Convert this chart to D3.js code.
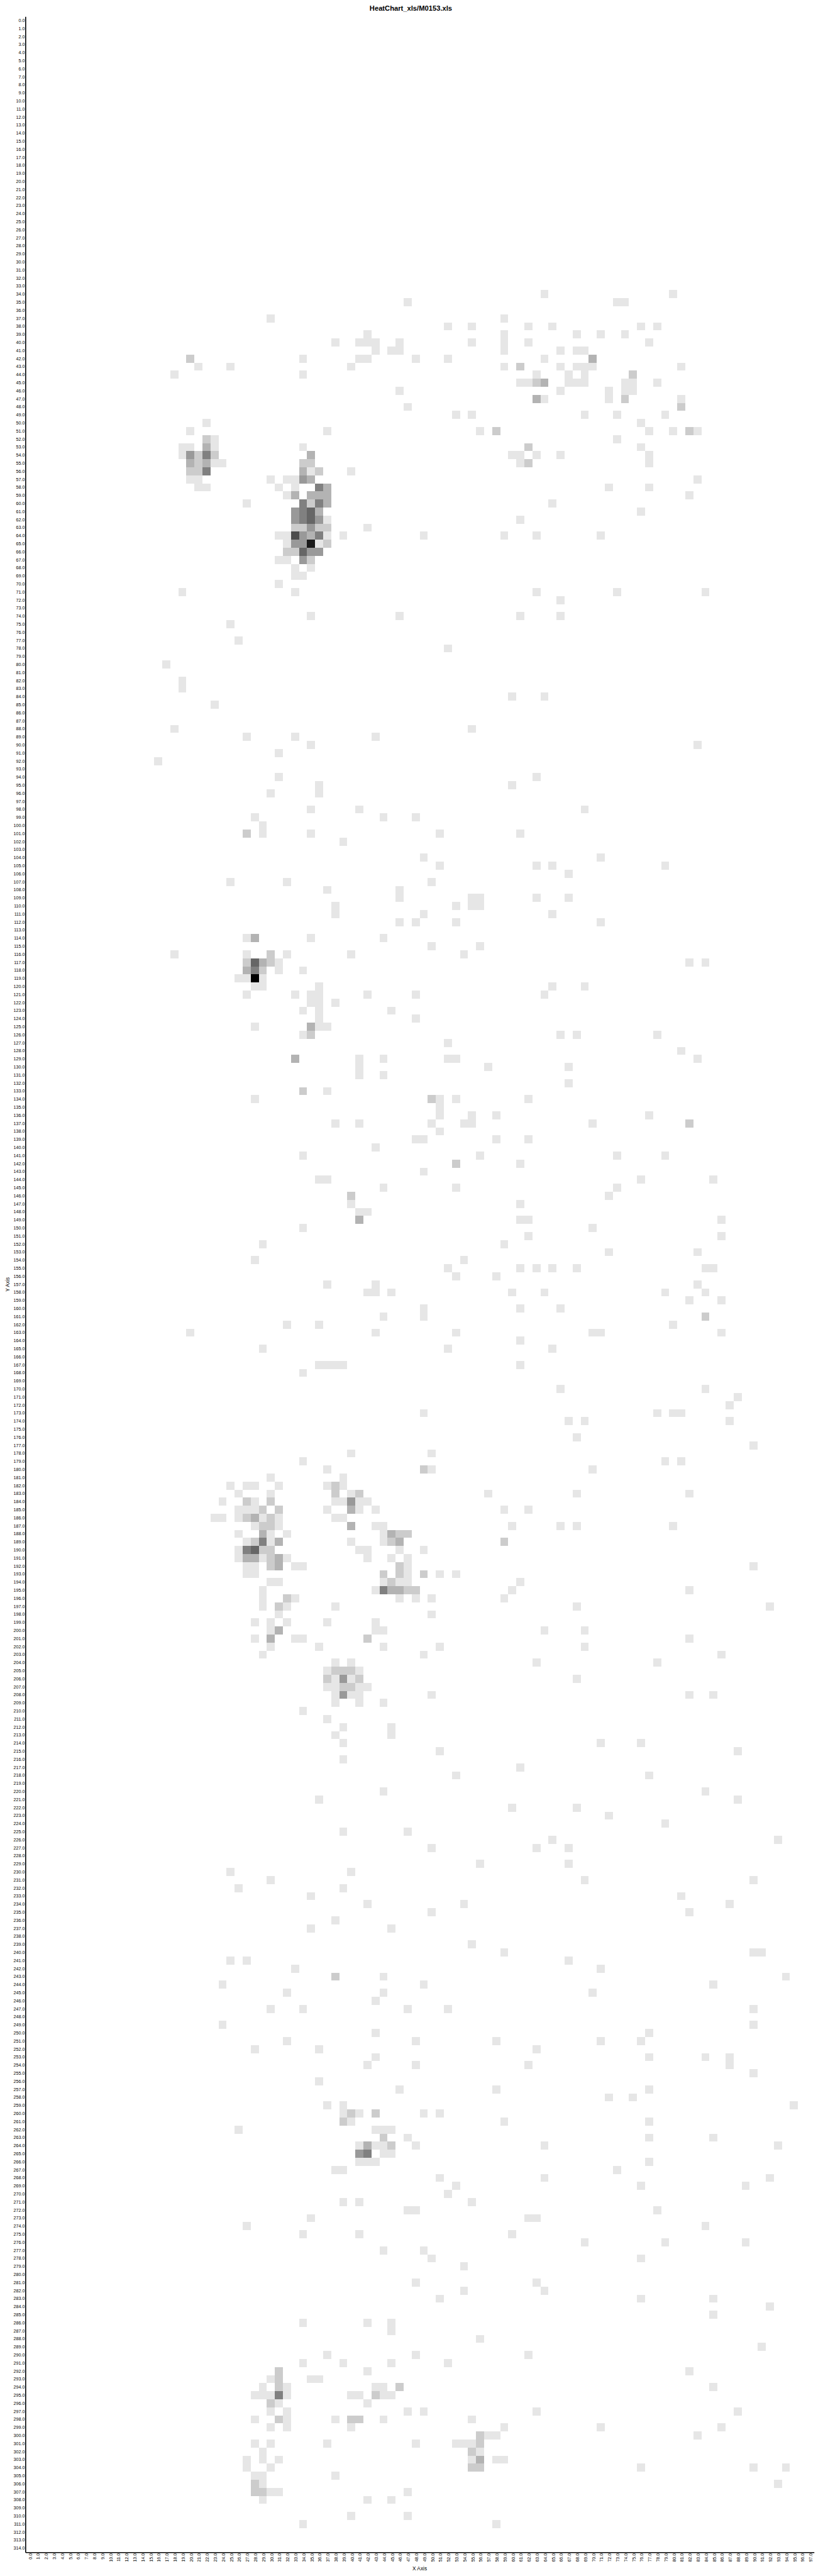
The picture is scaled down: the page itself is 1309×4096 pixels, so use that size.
<!DOCTYPE html>
<html>
<head>
<meta charset="utf-8">
<title>HeatChart_xls/M0153.xls</title>
<script src="https://cdn.jsdelivr.net/npm/d3@7"></script>
<style>
html,body{margin:0;padding:0;background:#fff;}
svg{display:block;}
text{font-family:"Liberation Sans",Arial,sans-serif;fill:#000;}
</style>
</head>
<body>
<div id="chart"></div>
<script>
const titleText = "HeatChart_xls/M0153.xls";
const xAxisLabel = "X Axis";
const yAxisLabel = "Y Axis";
const columnCount = 98;
const rowCount = 315;
const maxCount = 10;

// [row, [columns...]] grouped by the cell's count
const countOne = [
[34,[64,80]],[35,[47,73,74]],[37,[30,59]],[38,[52,55,62,65,76,78]],[39,[42,59,68,71,74]],
[40,[38,41,42,43,46,55,59,62,77]],[41,[43,45,46,59,66,68,69]],[42,[34,41,42,48,52,64]],
[43,[21,25,40,59,66,68,69,70,81]],[44,[18,34,63,67,69]],[45,[61,62,67,68,69,74,75,78]],
[46,[46,66,72,74,75]],[47,[64,72,81]],[48,[47]],[49,[53,55,69,73,79]],[50,[22,76]],
[51,[20,37,56,77,80,83]],[52,[23,73]],[53,[19,20,23,34,76]],[54,[19,60,61,63,66,77]],
[55,[23,24,61,77]],[56,[35,40]],[57,[20,21,30,32,33,83]],[58,[21,22,31,33,72,77]],
[59,[32,82]],[60,[27,65]],[61,[76]],[62,[37,61]],[63,[42]],[64,[31,32,37,39,49,59,63,71]],
[65,[32,36]],[67,[31,32]],[68,[33,35]],[69,[33,34]],[70,[31]],[71,[19,33,63,73,84]],
[72,[66]],[74,[35,46,61,66]],[75,[25]],[77,[26]],[78,[52]],[80,[17]],[82,[19]],[83,[19]],
[84,[60,64]],[85,[23]],[88,[18,55]],[89,[27,33,43]],[90,[35,83]],[91,[31]],[92,[16]],
[94,[31,63]],[95,[36,60]],[96,[30,36]],[98,[35,41,69]],[99,[28,44,48]],[100,[29]],
[101,[29,35,51,61]],[102,[39]],[104,[49,71]],[105,[51,63,65,79]],[106,[67]],[107,[25,32,50]],
[108,[37,46]],[109,[46,55,56,63,67]],[110,[38,53,55,56]],[111,[38,49,65]],[112,[46,48,53,71]],
[114,[27,35,44]],[115,[50,56]],[116,[18,27,32,40,54]],[117,[31,82,84]],[118,[31,34]],
[119,[26,27,29]],[120,[28,29,36,65,69]],[121,[27,33,35,36,42,48,64]],[122,[35,36,38]],
[123,[34,36,45]],[124,[36,48]],[125,[28,36,37]],[126,[34,66,68,78]],[127,[52]],[128,[81]],
[129,[41,44,52,53,83]],[130,[41,57,67]],[131,[41,44]],[132,[67]],[133,[37]],[134,[28,51,53,62]],
[135,[51]],[136,[51,55,58,77]],[137,[38,41,50,54,55,70]],[138,[51]],[139,[48,49,58,62]],
[140,[43]],[141,[34,56,73,79]],[142,[61]],[143,[49]],[144,[36,37,76,85]],[145,[44,53,73]],
[146,[72]],[147,[40,61]],[148,[41,42]],[149,[61,62,86]],[150,[34,70]],[151,[62,86]],
[152,[29,59]],[153,[72,83]],[154,[28,54]],[155,[52,61,63,65,68,84,85]],[156,[53,58]],
[157,[37,43,83]],[158,[42,43,45,60,64,79,84]],[159,[82,86]],[160,[49,61,66]],[161,[44,49]],
[162,[32,36,80]],[163,[20,43,53,70,71,86]],[164,[61]],[165,[29,52,65]],[167,[36,37,38,39,61]],
[168,[34]],[170,[66,84]],[171,[88]],[172,[87]],[173,[49,78,80,81]],[174,[67,69,87]],
[176,[68]],[177,[90]],[178,[40,50]],[179,[34,79,81]],[180,[37,50,70]],[181,[30,39]],
[182,[25,27,28,31,37,39]],[183,[26,30,40,57,68,82]],[184,[24,28,38,39,41,42]],
[185,[26,27,28,37,41,43,59,62]],[186,[23,24,26,29,31,38,39]],[187,[28,31,43,44,60,66,68,80]],
[188,[26,30,32,44]],[189,[27,30,40,44]],[190,[26,41,42,46,49]],[191,[26,29,32,42,45,47]],
[192,[27,28,33,34,47,90]],[193,[27,28,47,51,53]],[194,[30,31,44,46,47,61]],[195,[29,43,60,82]],
[196,[29,33,46,48,50,59]],[197,[29,32,38,68,92]],[198,[31,50]],[199,[28,30,32,37,43]],
[200,[30,43,44,64,69]],[201,[28,33,34,82]],[202,[30,36,44,51,69]],[203,[29,49,86]],
[204,[38,40,63,78]],[205,[37,41]],[206,[38,40,68]],[207,[37,38,41,42]],[208,[38,40,41,50,82,85]],
[209,[38,41,44]],[210,[34]],[211,[37]],[212,[39,45]],[213,[38,45]],[214,[39,71,76]],[215,[51,88]],
[216,[39]],[217,[61]],[218,[53,77]],[220,[44,84]],[221,[36,88]],[222,[60,68]],[223,[72]],[224,[79]],
[225,[39,47]],[226,[65,93]],[227,[50,63,67]],[229,[56,67]],[230,[25,40]],[231,[30,69,90]],
[232,[26,39]],[233,[35,81]],[234,[42,54,87]],[235,[50,82]],[236,[38]],[237,[35,45]],[239,[55]],
[240,[59,90,91]],[241,[25,27,67]],[242,[33,71]],[243,[44,94]],[244,[24,49,85]],[245,[32,44,70]],
[246,[43]],[247,[30,34,47,52,90]],[249,[24,90]],[250,[43,77]],[251,[32,48,58,71,76]],
[252,[28,36,63]],[253,[43,77,84,87]],[254,[42,48,62,87]],[255,[90]],[256,[36]],[257,[46,58,77]],
[258,[72,75]],[259,[37,39,95]],[260,[39,41,49,51]],[261,[40,59,77]],[262,[26,43,44,45]],
[263,[47,77,85]],[264,[41,43,44,48,64,93]],[265,[44,45]],[266,[41,42,43,77]],[267,[38,39,73]],
[268,[51,64,92]],[269,[53,76,89]],[270,[52]],[271,[39,41,55]],[272,[47,48,78]],[273,[35,62,63]],
[274,[27,84]],[275,[34,41,60]],[276,[69,79,89]],[277,[44,49]],[278,[50,76]],[279,[54]],
[281,[48,63]],[282,[54,64]],[283,[51,76,85]],[284,[92]],[285,[85]],[286,[34,42,45]],[287,[45]],
[288,[56]],[289,[91]],[290,[37,48,62]],[291,[34,39,45,52]],[292,[42,82]],[293,[30,35,36]],
[294,[29,32,43,44,85]],[295,[28,29,30,32,40,41,44,45]],[296,[31,42]],[297,[30,32,47,49,63,88]],
[298,[28,32,38,44,55]],[299,[30,32,40,59,71,86]],[300,[57,58,83]],[301,[28,30,37,48,53,54,55]],
[302,[29,56]],[303,[27,29,31,55,58,59]],[304,[27,30,76,90,94]],[305,[28,29,38]],[306,[29,93]],
[307,[30,31,47]],[308,[29,42,45]],[310,[40,47]],[311,[34,58]]
];
const countTwo = [
[42,[20]],[43,[61]],[44,[75]],[45,[63]],[47,[74]],[48,[81]],[51,[58,82]],[52,[22]],[53,[62]],
[54,[21,23]],[55,[21,34,35,62]],[56,[20,21,36]],[60,[35]],[63,[33,34,36,37]],[65,[37]],
[66,[32,33]],[67,[35]],[101,[27]],[116,[30]],[117,[27,30]],[118,[29]],[126,[35]],[133,[34]],
[134,[50]],[137,[82]],[142,[53]],[146,[40]],[161,[84]],[180,[49]],[182,[38]],[183,[38,41]],
[184,[27,30]],[185,[29,31]],[186,[27,30]],[187,[29,30]],[188,[46,47]],[189,[28,45,59]],
[190,[29,30]],[191,[30]],[192,[30,46]],[193,[44,46,49]],[194,[45]],[195,[47,48]],[196,[32]],
[197,[31]],[201,[42]],[205,[38,39,40]],[206,[37,41]],[207,[39,40]],[243,[38]],[260,[40,43]],
[261,[39]],[263,[44]],[264,[45]],[292,[31]],[293,[31]],[294,[31,46]],[295,[43]],[296,[30]],
[298,[31,40,41]],[300,[56]],[301,[56]],[302,[55]],[304,[55,56]],[306,[28]],[307,[28,29]]
];
const countThree = [
[42,[70]],[45,[64]],[47,[63]],[53,[22]],[54,[35]],[55,[20,22]],[56,[34]],[57,[35]],[58,[37]],
[59,[33,35,36,37]],[60,[37]],[61,[36]],[64,[35]],[114,[28]],[117,[29]],[118,[27]],[125,[35]],
[129,[33]],[149,[41]],[185,[40]],[186,[28]],[187,[40]],[188,[29,45]],[189,[31,46]],[191,[27,28,31]],
[192,[31]],[195,[45,46]],[200,[31]],[201,[30]],[264,[42]],[303,[56]]
];
const countFour = [
[54,[20]],[57,[34]],[61,[33]],[62,[33,36]],[63,[35]],[64,[34]],[65,[33,34]],[66,[35,36]],[67,[34]],
[184,[40]],[206,[39]],[208,[39]],[265,[41]]
];
const countFive = [
[54,[22]],[56,[22]],[58,[36]],[60,[34,36]],[61,[34]],[62,[34]],[64,[36]],[118,[28]],[189,[29]],
[190,[27]],[195,[44]],[265,[42]],[295,[31]]
];
const countSix = [[61,[35]],[62,[35]],[66,[34]],[117,[28]],[190,[28]]];
const countSeven = [[64,[33]]];
const countNine = [[65,[35]]];
const countTen = [[119,[28]]];

const groups = [
  [1,countOne],[2,countTwo],[3,countThree],[4,countFour],[5,countFive],
  [6,countSix],[7,countSeven],[9,countNine],[10,countTen]
];
const cells = groups.flatMap(([v,list]) =>
  list.flatMap(([r,cols]) => cols.map(c => ({row:r,col:c,value:v}))));

const xCategories = d3.range(columnCount);
const yCategories = d3.range(rowCount);

const k = 0.64;
const W = 2044*k, H = 6398*k;
const margin = {left:63*k, top:41*k, right:(2044-2023)*k, bottom:(6398-6341)*k};

const x = d3.scaleBand().domain(xCategories).range([margin.left, W-margin.right]).paddingInner(0).paddingOuter(0);
const y = d3.scaleBand().domain(yCategories).range([margin.top, H-margin.bottom]).paddingInner(0).paddingOuter(0);
const shade = d3.scaleLinear().domain([0,maxCount]).range(["#ffffff","#000000"]);

const svg = d3.select("#chart").append("svg")
  .attr("width",W).attr("height",H).attr("viewBox",`0 0 ${W} ${H}`);

svg.append("g").attr("shape-rendering","crispEdges")
  .selectAll("rect").data(cells).join("rect")
  .attr("x",d=>x(d.col)).attr("y",d=>y(d.row))
  .attr("width",x.bandwidth()).attr("height",y.bandwidth())
  .attr("fill",d=>shade(d.value));

const fmt = d => d.toFixed(1);
const tickPx = 7.1;

const yAxis = svg.append("g").attr("transform",`translate(${margin.left},0)`)
  .call(d3.axisLeft(y).tickSize(0).tickPadding(1).tickFormat(fmt));
yAxis.selectAll("text").attr("font-size",tickPx).attr("dy","0.34em")
  .style("font-family",'"Liberation Sans",Arial,sans-serif');
yAxis.select(".domain").attr("stroke","#000").attr("stroke-width",1.6);

const xAxis = svg.append("g").attr("transform",`translate(0,${H-margin.bottom})`)
  .call(d3.axisBottom(x).tickSize(0).tickFormat(fmt));
xAxis.selectAll("text")
  .attr("font-size",tickPx)
  .attr("text-anchor","end")
  .attr("x",0).attr("y",0)
  .attr("dy","0.34em")
  .attr("transform","translate(1.4,1.6) rotate(-90)")
  .style("font-family",'"Liberation Sans",Arial,sans-serif');
xAxis.select(".domain").attr("stroke","#000").attr("stroke-width",1.6);

svg.append("text").attr("x",1021*k).attr("y",21*k).attr("text-anchor","middle")
  .attr("dominant-baseline","central")
  .attr("font-size",17.5*k).attr("font-weight","bold").text(titleText);
svg.append("text").attr("x",1043*k).attr("y",6381*k).attr("text-anchor","middle")
  .attr("dominant-baseline","central")
  .attr("font-size",13*k).text(xAxisLabel);
svg.append("text").attr("transform",`translate(${18*k},${3191*k}) rotate(-90)`).attr("text-anchor","middle")
  .attr("dominant-baseline","central")
  .attr("font-size",13*k).text(yAxisLabel);
</script>
</body>
</html>
